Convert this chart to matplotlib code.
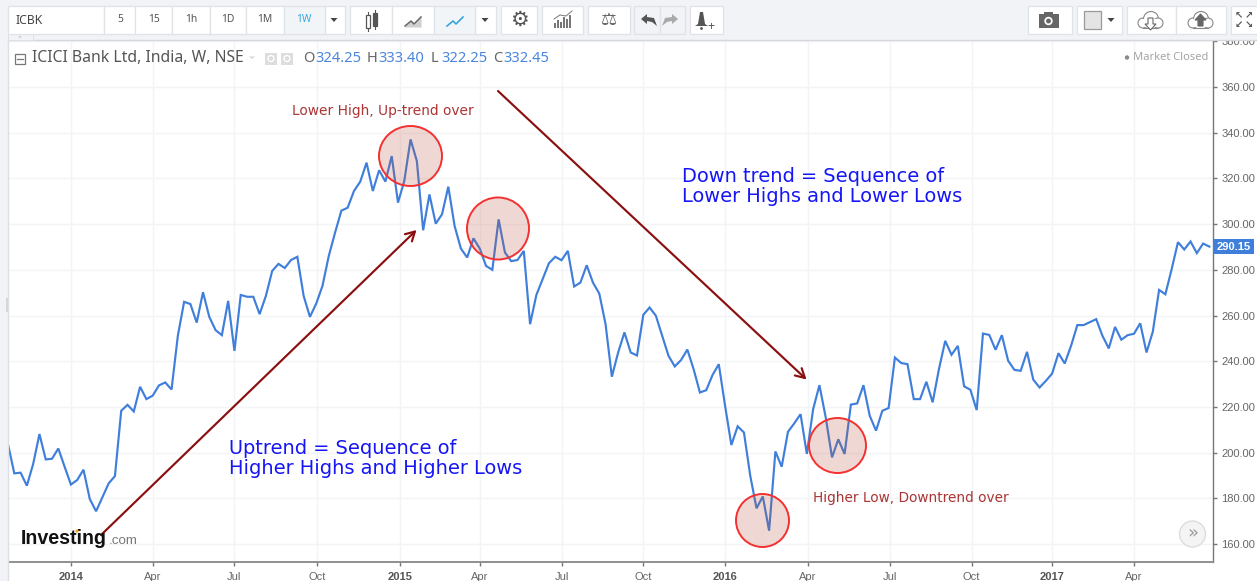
import matplotlib
matplotlib.use("Agg")
import matplotlib.pyplot as plt
from matplotlib.patches import Rectangle, Ellipse, Polygon, Circle, FancyArrowPatch

plt.rcParams['font.family'] = ['Liberation Sans', 'DejaVu Sans']

close_prices = [
    203.7, 190.9, 191.2, 185.5, 195.0, 208.1, 197.0, 197.3, 201.8, 193.8,
    186.0, 188.0, 192.5, 179.7, 174.3, 180.4, 186.5, 189.7, 218.3, 220.9,
    218.0, 228.8, 223.4, 224.9, 229.4, 230.7, 227.6, 251.1, 266.0, 265.0,
    256.9, 270.2, 259.4, 253.6, 251.4, 266.4, 244.5, 269.0, 268.2, 268.2,
    260.6, 268.6, 279.5, 282.6, 280.8, 284.3, 285.7, 268.6, 259.4, 265.2,
    273.0, 286.1, 296.3, 305.9, 307.2, 314.5, 318.6, 326.9, 314.5, 323.6,
    318.6, 329.8, 309.4, 318.9, 337.1, 327.6, 297.3, 313.0, 300.2, 304.3,
    316.4, 299.2, 289.3, 285.4, 293.8, 289.3, 281.7, 280.0, 302.1, 287.6,
    283.8, 284.3, 288.3, 256.2, 269.0, 275.9, 282.9, 285.7, 284.2, 288.3,
    272.7, 274.4, 282.0, 274.4, 269.6, 256.2, 233.2, 243.8, 252.6, 243.8,
    242.5, 260.3, 263.5, 259.9, 251.1, 242.4, 237.7, 240.5, 245.1, 236.5,
    226.3, 227.3, 233.9, 238.7, 220.5, 203.3, 211.5, 208.8, 189.9, 175.6,
    180.8, 165.8, 200.5, 193.8, 209.1, 212.8, 216.8, 199.4, 219.0, 229.5,
    215.4, 197.9, 205.8, 199.4, 221.0, 221.5, 229.5, 216.1, 209.6, 218.3,
    219.5, 241.6, 239.2, 238.7, 223.4, 223.4, 231.0, 222.0, 236.5, 248.9,
    242.8, 246.7, 229.0, 227.5, 218.6, 252.1, 251.5, 245.0, 251.4, 240.2,
    236.2, 235.8, 244.1, 231.9, 228.5, 231.4, 234.6, 243.5, 239.0, 246.7,
    255.8, 255.8, 257.1, 258.4, 251.1, 245.6, 255.0, 249.4, 251.4, 252.0,
    256.6, 243.8, 252.9, 271.2, 269.3, 280.3, 292.1, 288.9, 292.4, 287.3,
    291.5, 290.15,
]
week_index = list(range(len(close_prices)))
x_tick_weeks = [10, 23, 36, 49.2, 62.3, 75, 88.1, 101, 114, 127.2, 140.2, 153.2, 166, 179]
x_tick_labels = ['2014', 'Apr', 'Jul', 'Oct', '2015', 'Apr', 'Jul', 'Oct', '2016', 'Apr', 'Jul', 'Oct', '2017', 'Apr']
y_ticks = [160, 180, 200, 220, 240, 260, 280, 300, 320, 340, 360, 380]
last_price = 290.15

W, H = 1257, 581
fig = plt.figure(figsize=(W / 100, H / 100), dpi=100, facecolor='white')

AX_L, AX_R, AX_T, AX_B = 8, 1213, 40, 562
ax = fig.add_axes([AX_L / W, 1 - AX_B / H, (AX_R - AX_L) / W, (AX_B - AX_T) / H])
ax.set_xlim(0, 191.57)
ax.set_ylim(152.1, 380.6)
ax.plot(week_index, close_prices, color='#3f7fdb', lw=1.55, solid_joinstyle='miter', zorder=3)
ax.set_xticks(x_tick_weeks)
ax.set_xticklabels(x_tick_labels)
ax.set_yticks(y_ticks)
ax.set_yticklabels([f'{v:.2f}' for v in y_ticks])
ax.yaxis.tick_right()
ax.grid(True, color='#f3f4f6', lw=1)
ax.set_axisbelow(True)
ax.tick_params(axis='both', colors='#777777', length=3, width=1, labelsize=8, pad=2)
ax.tick_params(axis='y', labelcolor='#666666', pad=3)
ax.tick_params(axis='x', labelcolor='#666666', pad=4)
for lab, s in zip(ax.get_xticklabels(), x_tick_labels):
    if s.isdigit():
        lab.set_fontweight('bold')
        lab.set_color('#555555')
for s in ('top', 'left'):
    ax.spines[s].set_visible(False)
ax.spines['bottom'].set_color('#8f8f8f')
ax.spines['bottom'].set_linewidth(1.4)
ax.spines['right'].set_color('#777777')
ax.spines['right'].set_linewidth(1.0)

# overlay in pixel coordinates for screenshot chrome and hand-drawn annotations
ov = fig.add_axes([0, 0, 1, 1], facecolor='none')
ov.set_xlim(0, W)
ov.set_ylim(H, 0)
ov.axis('off')

BG = '#f1f3f6'
EDGE = '#dfe2e7'
ov.add_patch(Rectangle((0, 0), W, 39.5, fc=BG, ec='none', zorder=5))
ov.add_patch(Rectangle((0, 0), 7.5, H, fc=BG, ec='none', zorder=5))
ov.plot([8, W], [39.5, 39.5], color='#d4d7dc', lw=1, zorder=6)
ov.plot([7.7, 7.7], [39.5, H], color='#dcdfe4', lw=1, zorder=6)
ov.add_patch(Rectangle((6, 298), 2, 14, fc='#d5d7da', ec='none', zorder=6))
ov.add_patch(Rectangle((8, 33.5), 25, 6, fc=BG, ec='#dde0e4', lw=0.7, zorder=6))
ov.add_patch(Polygon([(18, 37.5), (22, 37.5), (20, 35.5)], fc='#c9ccd1', ec='none', zorder=7))


def button(x0, x1, fc='white'):
    ov.add_patch(Rectangle((x0, 5.5), x1 - x0, 28, fc=fc, ec=EDGE, lw=0.9, zorder=6))


def arrow_down(cx, cy=20):
    ov.add_patch(Polygon([(cx - 3.5, cy - 2), (cx + 3.5, cy - 2), (cx, cy + 2)], fc='#444444', ec='none', zorder=8))


for a, b in [(8, 104), (104, 134.5), (134.5, 172), (172, 210), (210, 246), (246, 284), (324.5, 345),
             (350, 391.5), (391.5, 434), (475, 496), (501, 537), (542, 583), (588, 630),
             (690, 723), (1027.5, 1072), (1077, 1122), (1127, 1176), (1176, 1226), (1231, 1262)]:
    button(a, b)
button(284, 324.5, '#f1f5f8')
button(434, 475, '#f1f5f8')
button(634, 660, '#f1f3f6')
button(660, 685, '#f1f3f6')

tb = dict(zorder=8, va='center', ha='center', family=['Noto Sans', 'DejaVu Sans'])
ov.text(16, 20, 'ICBK', fontsize=8.8, color='#444444', zorder=8, va='center', ha='left', family='Noto Sans')
for label, cx in [('5', 120), ('15', 154), ('1h', 191), ('1D', 228), ('1M', 265)]:
    ov.text(cx, 20, label, fontsize=7.4, color='#555555', **tb)
ov.text(304, 20, '1W', fontsize=7.4, color='#38a8dc', **tb)
arrow_down(334)
arrow_down(485)
arrow_down(1111)

# candle icon
ov.add_patch(Rectangle((366, 15), 3.5, 13, fc='white', ec='#555555', lw=0.9, zorder=8))
ov.add_patch(Rectangle((373, 13), 3.5, 13, fc='#555555', ec='#555555', lw=0.9, zorder=8))
ov.plot([367.7, 367.7], [12, 31], color='#555555', lw=0.8, zorder=7.5)
ov.plot([374.7, 374.7], [10, 29], color='#555555', lw=0.8, zorder=7.5)
# area and line icons
ix = [405, 411, 414, 421]
iy = [26, 21, 24, 17]
ov.fill_between(ix, iy, [27, 27, 27, 27], color='#cfcfcf', lw=0, zorder=8)
ov.plot(ix, iy, color='#666666', lw=1.1, zorder=9)
ov.plot([447, 453, 456, 463], iy, color='#38a8dc', lw=1.2, zorder=9)
# gear
ov.text(519, 20, '\u2699', fontsize=15, color='#555555', zorder=8, va='center', ha='center', family='DejaVu Sans')
# bars icon
for k, hgt in enumerate([5, 8, 6, 11, 9, 13]):
    ov.add_patch(Rectangle((554 + k * 3, 28 - hgt), 2, hgt, fc='#777777', ec='none', zorder=8))
ov.plot([554, 560, 566, 572], [19, 15, 16, 11], color='#777777', lw=0.7, zorder=8)
# scales
ov.text(609, 20, '\u2696', fontsize=13, color='#666666', zorder=8, va='center', ha='center', family='DejaVu Sans')
# undo / redo
ov.add_patch(Polygon([(641, 19), (647, 14), (647, 17), (654, 18), (657, 26), (652, 22), (647, 21), (647, 24)],
                     fc='#555555', ec='none', zorder=8))
ov.add_patch(Polygon([(678, 19), (672, 14), (672, 17), (665, 18), (662, 26), (667, 22), (672, 21), (672, 24)],
                     fc='#aaaaaa', ec='none', zorder=8))
# bell
ov.add_patch(Polygon([(700, 12), (703, 12), (705, 24), (708, 26), (695, 26), (698, 24)],
                     fc='#555555', ec='none', zorder=8))
ov.add_patch(Circle((701.5, 28.5), 1.4, fc='#555555', ec='none', zorder=8))
ov.text(711, 26.5, '+', fontsize=9, color='#555555', **tb)
# camera
ov.add_patch(Rectangle((1038.5, 14), 20, 14, fc='#666666', ec='none', zorder=8))
ov.add_patch(Rectangle((1044, 11.5), 9, 3, fc='#666666', ec='none', zorder=8))
ov.add_patch(Circle((1048.5, 21), 4.2, fc='white', ec='none', zorder=9))
ov.add_patch(Circle((1048.5, 21), 2.4, fc='#666666', ec='none', zorder=10))
# colour swatch
ov.add_patch(Rectangle((1084, 11), 17, 18, fc='#e4e4e4', ec='#999999', lw=0.9, zorder=8))


def cloud(cx, fill):
    for dx, dy, r in [(-7, 3, 5), (1, -1, 7.5), (8, 3, 5)]:
        ov.add_patch(Circle((cx + dx, 20 + dy), r, fc='white', ec='#888888', lw=0.8, zorder=8))
    ov.add_patch(Rectangle((cx - 7, 19), 15, 8.3, fc='white', ec='none', zorder=8.5))
    ov.plot([cx - 7, cx + 8], [28, 28], color='#888888', lw=0.8, zorder=8.6)
    sgn = 1 if fill == 'white' else -1
    pts = [(cx + 0.5, 22 + sgn * 8), (cx - 5, 22 + sgn * 2), (cx - 2, 22 + sgn * 2), (cx - 2, 22 - sgn * 4),
           (cx + 3, 22 - sgn * 4), (cx + 3, 22 + sgn * 2), (cx + 6, 22 + sgn * 2)]
    ov.add_patch(Polygon(pts, fc=fill, ec='#666666', lw=0.8, zorder=9))


cloud(1150, 'white')
cloud(1200, '#666666')
# fullscreen
for dx, dy, ch in [(-5, -5, '\u2196'), (5, -5, '\u2197'), (-5, 5, '\u2199'), (5, 5, '\u2198')]:
    ov.text(1244 + dx, 20 + dy, ch, fontsize=7, color='#555555', zorder=8, va='center', ha='center',
            family='DejaVu Sans', fontweight='bold')

# legend line
TITLE_FONT = ['Noto Sans', 'DejaVu Sans']
ov.add_patch(Rectangle((14.5, 53.5), 10, 10, fc='white', ec='#777777', lw=0.9, zorder=8))
ov.plot([16.5, 22.5], [58.5, 58.5], color='#777777', lw=0.9, zorder=9)
ov.text(32, 58, 'ICICI Bank Ltd, India, W, NSE', fontsize=11.3, color='#555555', va='center', ha='left', family=TITLE_FONT, zorder=8)
ov.add_patch(Polygon([(249, 56.5), (255, 56.5), (252, 59)], fc='#d5d5d5', ec='none', zorder=8))
for bx in (265, 281):
    ov.add_patch(Rectangle((bx, 52.5), 12, 12, fc='#dddddd', ec='none', zorder=8))
    ov.add_patch(Circle((bx + 6, 58.5), 3, fc='#dddddd', ec='white', lw=1, zorder=9))
for key, kx, val, vx in [('O', 303, '324.25', 315), ('H', 367, '333.40', 378), ('L', 431, '322.25', 441), ('C', 493, '332.45', 503)]:
    ov.text(kx, 59, key, fontsize=10.6, color='#666666', va='center', ha='left', family=TITLE_FONT, zorder=8)
    ov.text(vx, 59, val, fontsize=10.6, color='#4a86dc', va='center', ha='left', family=TITLE_FONT, zorder=8)
ov.add_patch(Circle((1127, 57.5), 2.2, fc='#8a8a8a', ec='none', zorder=8))
ov.text(1133, 57.5, 'Market Closed', fontsize=8, color='#a5a5a5', va='center', ha='left', family=TITLE_FONT, zorder=8)

# last price tag, placed on the price scale
tag_y = ax.transData.transform((0, last_price))[1]
tag_py = H - tag_y
ov.add_patch(Rectangle((1213, tag_py - 7.5), 41, 15, fc='#3f7fdb', ec='none', zorder=8))
ov.text(1234, tag_py, f'{last_price:.2f}', color='white', fontsize=8, fontweight='bold', va='center', ha='center', zorder=9)

# hand-drawn annotations
for cx, cy, rx, ry in [(410.5, 156, 31.5, 30), (498, 228.5, 31, 31), (762.5, 520.5, 26.5, 26.5), (837.5, 445.5, 28.5, 27.5)]:
    ov.add_patch(Ellipse((cx, cy), 2 * rx, 2 * ry, fc=(0.72, 0.30, 0.22, 0.22), ec='none', zorder=4))
    ov.add_patch(Ellipse((cx, cy), 2 * rx, 2 * ry, fc='none', ec='#f53030', lw=1.4, zorder=4.1))

for p0, p1 in [((101, 535), (416.5, 230)), ((498, 91), (806.5, 379.5))]:
    ov.add_patch(FancyArrowPatch(p0, p1, arrowstyle='->,head_length=6.5,head_width=3.6', color='#8b0f0f',
                                 lw=1.55, shrinkA=0, shrinkB=0, zorder=4.5))

RED = '#ab3434'
BLUE = '#1515f5'
ov.text(292, 111, 'Lower High, Up-trend over', color=RED, fontsize=9.87, va='center', ha='left', family='DejaVu Sans', zorder=6)
ov.text(813, 498, 'Higher Low, Downtrend over', color=RED, fontsize=9.85, va='center', ha='left', family='DejaVu Sans', zorder=6)
ov.text(229, 448.5, 'Uptrend = Sequence of', color=BLUE, fontsize=13.98, va='center', ha='left', family='DejaVu Sans', zorder=6)
ov.text(229, 468.5, 'Higher Highs and Higher Lows', color=BLUE, fontsize=13.98, va='center', ha='left', family='DejaVu Sans', zorder=6)
ov.text(682, 176, 'Down trend = Sequence of', color=BLUE, fontsize=13.98, va='center', ha='left', family='DejaVu Sans', zorder=6)
ov.text(682, 196, 'Lower Highs and Lower Lows', color=BLUE, fontsize=13.98, va='center', ha='left', family='DejaVu Sans', zorder=6)

# logo
ov.text(21, 539, 'Investing', color='#111111', fontsize=14.1, fontweight='bold', va='center', ha='left', zorder=6)
ov.text(109, 541, '.com', color='#777777', fontsize=9.6, va='center', ha='left', zorder=6)
ov.add_patch(Circle((77, 531), 1.6, fc='#f5a623', ec='none', zorder=7))

# scroll button
ov.add_patch(Circle((1192.5, 534), 13, fc='#f4f4f4', ec='#dddddd', lw=1, zorder=6))
ov.text(1192.5, 533, '\u00bb', fontsize=13, color='#999999', va='center', ha='center', family='DejaVu Sans', zorder=7)

fig.savefig('out.png', dpi=100)
